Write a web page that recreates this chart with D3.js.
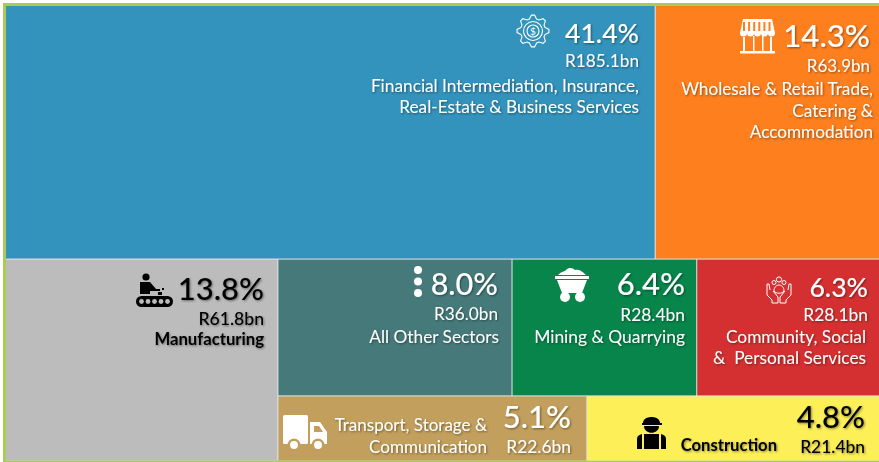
<!DOCTYPE html>
<html><head><meta charset="utf-8">
<script src="https://cdn.jsdelivr.net/npm/d3@7/dist/d3.min.js"></script>
<style>html,body{margin:0;padding:0;background:#fff}svg{display:block}text{font-family:Lato,"Open Sans",sans-serif;white-space:pre}</style>
</head><body><svg id="c" width="879" height="462"></svg>
<script>
const sectors = ["fin","trade","manu","other","mining","community","transport","construction"];
const shares  = [41.4,14.3,13.8,8.0,6.4,6.3,5.1,4.8];
const amounts = [185.1,63.9,61.8,36.0,28.4,28.1,22.6,21.4];
const names = [
  ["Financial Intermediation, Insurance,","Real-Estate & Business Services"],
  ["Wholesale & Retail Trade,","Catering &","Accommodation"],
  ["Manufacturing"],
  ["All Other Sectors"],
  ["Mining & Quarrying"],
  ["Community, Social","&  Personal Services"],
  ["Transport, Storage &","Communication"],
  ["Construction"]
];
const colours = ["#3393bc","#fe7f1e","#bcbcbc","#467a7a","#07854a","#d53031","#c29f5c","#fdef57"];
const inks = ["#fff","#fff","#000","#fff","#fff","#fff","#fff","#000"];

const val = s => ({name:s, value:amounts[sectors.indexOf(s)]});
const tree = {children:[
  {children:[val("fin"),val("trade")]},
  {children:[val("manu"),{children:[
    {children:[val("other"),val("mining"),val("community")]},
    {children:[val("transport"),val("construction")]}
  ]}]}
]};
const root = d3.hierarchy(tree).sum(d=>d.value||0);
d3.treemap()
  .tile((n,x0,y0,x1,y1)=> (n.depth&1? d3.treemapDice : d3.treemapSlice)(n,x0,y0,x1,y1))
  .size([873,454.5]).paddingInner(1)(root);

const svg = d3.select("#c");
const defs = svg.append("defs");
const f = defs.append("filter").attr("id","sh").attr("x","-10%").attr("y","-20%").attr("width","120%").attr("height","150%");
f.append("feDropShadow").attr("dx",1).attr("dy",1).attr("stdDeviation",0.8).attr("flood-color","#000").attr("flood-opacity",0.45);

svg.append("rect").attr("width",879).attr("height",462).attr("fill","#fff");
svg.append("rect").attr("x",3).attr("y",3).attr("width",876).attr("height",459).attr("fill","#a9cc52");
svg.append("rect").attr("x",6).attr("y",6).attr("width",873).attr("height",454.5).attr("fill","#e6e6e6");

const g = svg.append("g").attr("transform","translate(6,6)");
const leaves = root.leaves();
g.selectAll("rect").data(leaves).join("rect")
  .attr("x",d=>d.x0).attr("y",d=>d.y0)
  .attr("width",d=>d.x1-d.x0).attr("height",d=>d.y1-d.y0)
  .attr("fill",d=>colours[sectors.indexOf(d.data.name)]);

const place = {
  fin:{p:[639,43,26.6],a:[639,67,17.2],n:[[639,92],[639,113]],s:17.3},
  trade:{p:[870,47,31.2],a:[870,72,17],n:[[873,95],[873,116.5],[873,138]],s:17.2},
  manu:{p:[264,300,31],a:[264,325,17.6],n:[[264,345]],s:16.7,w:700},
  other:{p:[498,295,30.6],a:[498,320,17.2],n:[[499,343]],s:17.3},
  mining:{p:[685,295,31],a:[685,321,17.4],n:[[685,343]],s:17.4},
  community:{p:[868,297,26.6],a:[868,321,17.4],n:[[866,343],[866,364]],s:17.3},
  transport:{p:[571,428,31],a:[571,453,17.4],n:[[487,431],[487,452.5]],s:17},
  construction:{p:[865,428,31],a:[865,453,17.4],n:[[777,451]],s:16.6,w:700}
};
const labels = svg.append("g").attr("filter","url(#sh)");
function put(t,x,y,size,ink,w){
  labels.append("text").attr("x",x).attr("y",y).attr("text-anchor","end")
    .attr("font-size",size).attr("font-weight",w||400).attr("fill",ink).text(t);
}
sectors.forEach((s,i)=>{
  const l=place[s], ink=inks[i];
  put(shares[i].toFixed(1)+"%",l.p[0],l.p[1],l.p[2],ink,500);
  put("R"+amounts[i].toFixed(1)+"bn",l.a[0],l.a[1],l.a[2],ink,s==="manu"||s==="construction"?500:400);
  names[i].forEach((t,j)=>put(t,l.n[j][0],l.n[j][1],l.s,ink,l.w));
});

const ic = svg.append("g");
(function(){
  const c=ic.append("g").attr("transform","translate(533,31)").attr("fill","none").attr("stroke","#fff").attr("stroke-width",1.1);
  const teeth=8, pts=[];
  for(let i=0;i<teeth*4;i++){
    const a=(i-0.5)/(teeth*4)*2*Math.PI, r=(i%4===0||i%4===1)?16:12.5;
    pts.push([r*Math.cos(a),r*Math.sin(a)]);
  }
  c.append("path").attr("d",d3.line().curve(d3.curveLinearClosed)(pts));
  c.append("circle").attr("r",9.5);
  c.append("circle").attr("r",6);
  c.append("text").attr("text-anchor","middle").attr("y",3.5).attr("font-size",10).attr("fill","#fff").attr("stroke","none").text("$");
})();
(function(){
  const c=ic.append("g").attr("transform","translate(740,19)").attr("fill","#fff");
  c.append("path").attr("d","M3,0H32L35,14H0Z");
  c.append("g").selectAll("rect").data(d3.range(6)).join("rect").attr("x",d=>3+d*5.1).attr("y",3).attr("width",2).attr("height",9).attr("fill","#fe7f1e");
  c.append("g").selectAll("path").data(d3.range(5)).join("path").attr("d",d=>`M${d*7},14h7a3.5,3.5 0 0 1 -7,0Z`);
  c.append("rect").attr("x",3).attr("y",18).attr("width",2).attr("height",14);
  c.append("rect").attr("x",30).attr("y",18).attr("width",2).attr("height",14);
  c.append("rect").attr("x",13).attr("y",17).attr("width",1.5).attr("height",15);
  c.append("rect").attr("x",22).attr("y",17).attr("width",1.5).attr("height",15);
  c.append("rect").attr("x",0).attr("y",32).attr("width",35).attr("height",2.5);
})();
(function(){
  const c=ic.append("g").attr("transform","translate(136,271)").attr("fill","#000");
  c.append("circle").attr("cx",10).attr("cy",6).attr("r",3.6);
  c.append("path").attr("d","M4,11H14L20,18H24V20H14V23H4Z");
  c.append("rect").attr("x",22).attr("y",21).attr("width",4).attr("height",3);
  c.append("rect").attr("x",26).attr("y",17).attr("width",2).attr("height",2);
  c.append("rect").attr("x",0).attr("y",25).attr("width",37).attr("height",11).attr("rx",5.5);
  c.append("g").selectAll("circle").data(d3.range(5)).join("circle")
    .attr("cx",d=>5.5+d*6.5).attr("cy",30.5).attr("r",2.4).attr("fill","#bcbcbc");
})();
ic.append("g").attr("fill","#fff").selectAll("circle").data([0,1,2]).join("circle")
  .attr("cx",418).attr("cy",d=>270+d*11.5).attr("r",4);
(function(){
  const c=ic.append("g").attr("transform","translate(555,266)").attr("fill","#fff");
  c.append("path").attr("d","M3,9C7,5 9,6 11,4C14,1 18,2 20,4C24,3 27,5 31,9Z");
  c.append("rect").attr("x",0).attr("y",10).attr("width",34).attr("height",3);
  c.append("path").attr("d","M2,14H32L27,27H7Z");
  c.append("circle").attr("cx",10).attr("cy",31).attr("r",5);
  c.append("circle").attr("cx",25).attr("cy",31).attr("r",5);
})();
(function(){
  const c=ic.append("g").attr("transform","translate(766,276)").attr("fill","none").attr("stroke","#fff").attr("stroke-width",1);
  c.append("path").attr("d","M1,8V19L6,24V27H12V21L7,15M1,8H3L4,14");
  c.append("path").attr("d","M25,8V19L20,24V27H14V21L19,15M25,8H23L22,14");
  [[13,3.5,2.6],[8,6.5,2],[18,6.5,2]].forEach(d=>c.append("circle").attr("cx",d[0]).attr("cy",d[1]).attr("r",d[2]));
  c.append("path").attr("d","M8,15C8,7 18,7 18,15C16,18 10,18 8,15Z");
})();
(function(){
  const c=ic.append("g").attr("transform","translate(283,415)").attr("fill","#fff");
  c.append("rect").attr("x",0).attr("y",0).attr("width",25).attr("height",29).attr("rx",1.5);
  c.append("path").attr("d","M27,7H37L44,17V29H27Z");
  c.append("path").attr("d","M31,11H36L40,17H31Z").attr("fill","#c29f5c");
  [11,35].forEach(x=>{
    c.append("circle").attr("cx",x).attr("cy",30).attr("r",6.5).attr("fill","#c29f5c");
    c.append("circle").attr("cx",x).attr("cy",30).attr("r",4).attr("fill","#fff");
  });
})();
(function(){
  const c=ic.append("g").attr("transform","translate(637,414)").attr("fill","#000");
  c.append("path").attr("d","M6,9C6,1 23,1 23,9H25V11H5V9Z");
  c.append("path").attr("d","M7,12H22C22,21 7,21 7,12Z");
  c.append("path").attr("d","M7,20H22V35H7Z");
  c.append("path").attr("d","M5,20V35H0V25C0,22 2,21 5,20Z");
  c.append("path").attr("d","M24,20C27,21 29,22 29,25V35H24Z");
})();
</script></body></html>
